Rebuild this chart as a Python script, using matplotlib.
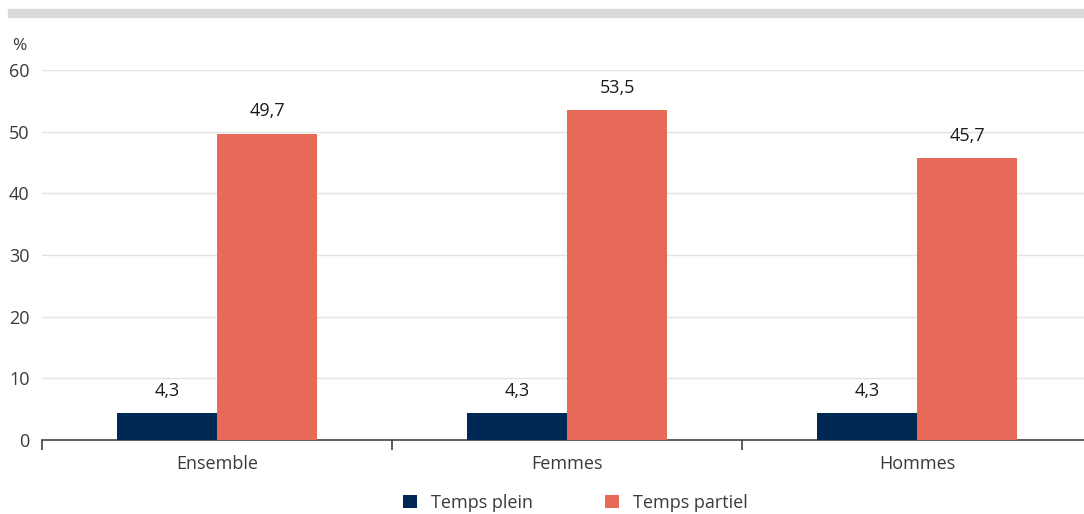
import numpy as np
import matplotlib.pyplot as plt
from matplotlib.patches import Rectangle

plt.rcParams['font.family'] = ['Open Sans', 'DejaVu Sans']

categories = ['Ensemble', 'Femmes', 'Hommes']
temps_plein = [4.3, 4.3, 4.3]
temps_partiel = [49.7, 53.5, 45.7]
series_names = ['Temps plein', 'Temps partiel']

navy = '#002855'
coral = '#E66A57'
txt = '#3a3a3a'

fig = plt.figure(figsize=(10.84, 5.14), dpi=100)
ax = fig.add_axes([0.0387, 0.144, 0.9687, 0.7198])

x = np.arange(len(categories))
w = 0.286
b1 = ax.bar(x - w / 2, temps_plein, w, color=navy, label=series_names[0], zorder=3)
b2 = ax.bar(x + w / 2, temps_partiel, w, color=coral, label=series_names[1], zorder=3)

for bars, vals in [(b1, temps_plein), (b2, temps_partiel)]:
    for r, v in zip(bars, vals):
        ax.text(r.get_x() + r.get_width() / 2, v + 2.2, f'{v:.1f}'.replace('.', ','),
                ha='center', va='bottom', fontsize=13, color='#1a1a1a')

ax.set_xlim(-0.5, len(categories) - 0.5)
ax.set_ylim(0, 60)
ax.set_yticks(range(0, 61, 10))
ax.yaxis.grid(True, color='#e3e3e3', linewidth=1, zorder=0)
ax.set_axisbelow(True)
for s in ['top', 'right', 'left']:
    ax.spines[s].set_visible(False)
ax.spines['bottom'].set_color('#444444')
ax.spines['bottom'].set_linewidth(1.2)

ax.set_xticks(x)
ax.set_xticklabels(categories)
ax.tick_params(axis='x', length=0, pad=11, labelsize=13, labelcolor=txt)
ax.set_xticks(np.arange(-0.5, len(categories), 1), minor=True)
ax.tick_params(axis='x', which='minor', length=7, color='#444444', width=1.2)
ax.tick_params(axis='y', length=0, pad=9, labelsize=13, labelcolor=txt)

fig.text(0.011, 0.911, '%', fontsize=12.5, color=txt, va='center')

# grey band at top
fig.patches.append(Rectangle((0.0075, 0.966), 0.9925, 0.016, transform=fig.transFigure,
                             color='#d9d9d9', zorder=0))

fig.legend(handles=[b1, b2], loc='center', bbox_to_anchor=(0.531, 0.022), ncol=2,
           frameon=False, fontsize=13, handlelength=0.75, handleheight=0.75,
           columnspacing=4.0, handletextpad=0.8, labelcolor=txt)

fig.savefig('out.png', dpi=100)
